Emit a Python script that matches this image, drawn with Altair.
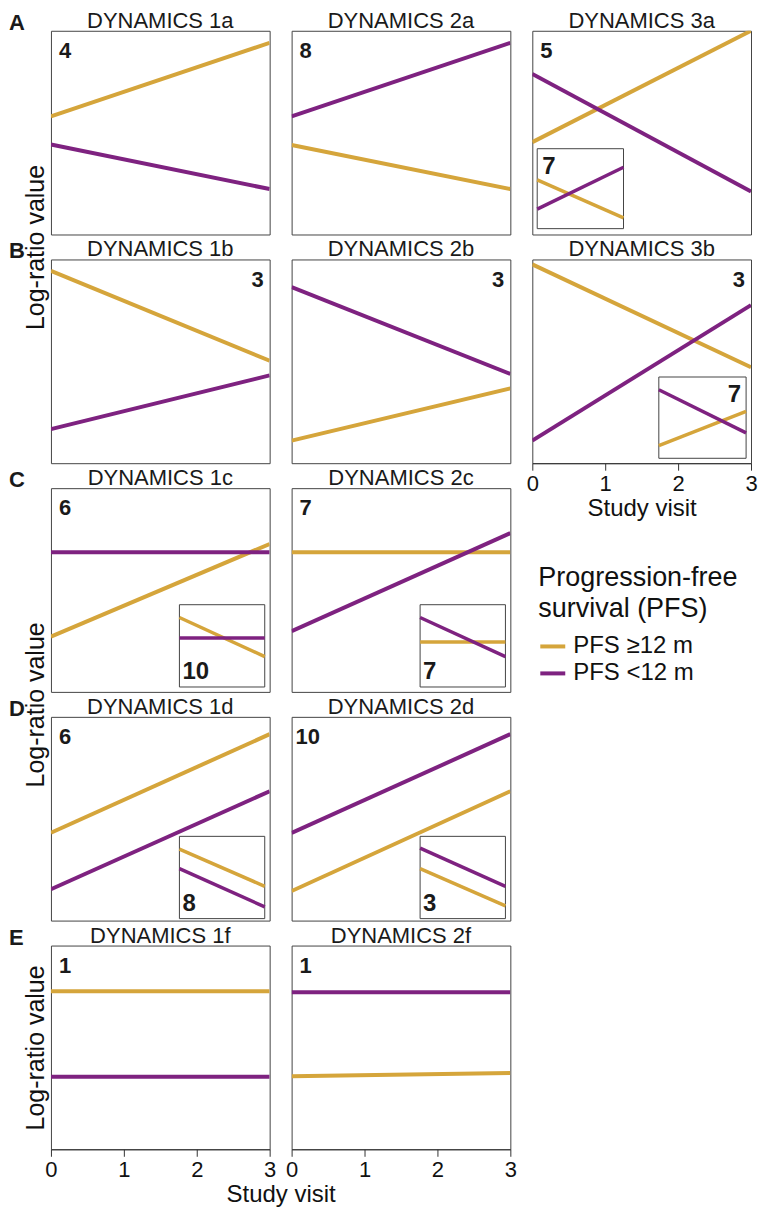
import altair as alt
import pandas as pd

FONT = "Liberation Sans, Arial, Helvetica, sans-serif"

# ---------------- data ----------------
panels = ["1a", "2a", "3a", "1b", "2b", "3b", "1c", "2c", "1d", "2d", "1f", "2f"]
titles = ["DYNAMICS " + p for p in panels]
counts = ["4", "8", "5", "3", "3", "3", "6", "7", "6", "10", "1", "1"]
visits = [0, 3]
groups = ["PFS \u226512 m", "PFS <12 m"]
colors = ["#D5A53B", "#7E2280"]

gold_start = [58.0, 43.9, 45.3, 94.4, 11.1, 97.6, 27.1, 68.6, 43.1, 14.5, 77.6, 35.9]
gold_end = [94.1, 22.3, 100.0, 50.3, 36.7, 47.1, 72.6, 68.6, 91.5, 63.5, 77.6, 37.5]
purple_start = [44.2, 58.0, 78.8, 16.7, 86.4, 11.1, 68.6, 29.8, 15.4, 43.0, 35.6, 77.1]
purple_end = [22.3, 94.1, 21.1, 43.1, 43.8, 77.6, 68.6, 77.9, 63.5, 91.5, 35.6, 77.1]

inset_panels = ["3a", "3b", "1c", "2c", "1d", "2d"]
inset_counts = ["7", "7", "10", "7", "8", "3"]
inset_gold_start = [61.0, 15.7, 84.5, 54.8, 84.5, 60.7]
inset_gold_end = [13.4, 57.8, 36.9, 54.8, 39.3, 15.5]
inset_purple_start = [24.4, 84.3, 59.5, 84.5, 60.7, 85.7]
inset_purple_end = [76.8, 31.3, 59.5, 36.9, 14.3, 39.3]

row_letters = {"1a": "A", "1b": "B", "1c": "C", "1d": "D", "1f": "E"}

# ---------------- layout ----------------
W, H = 219, 204
COL_GAP, ROW_GAP = 22, 25

# inset frames as fractions of the panel (x0, x1, y_top, y_bottom)
inset_box = {
    "3a": (5 / 223, 93 / 223, 121 / 209, 203 / 209),
    "3b": (129 / 223, 218 / 223, 120 / 208, 203 / 208),
    "1c": (131 / 223, 218 / 223, 119 / 208, 203 / 208),
    "2c": (131 / 223, 218 / 223, 119 / 208, 203 / 208),
    "1d": (131 / 223, 218 / 223, 122 / 208, 206 / 208),
    "2d": (131 / 223, 218 / 223, 122 / 208, 206 / 208),
}
inset_corner = {"3a": "tl", "3b": "tr", "1c": "bl", "2c": "bl", "1d": "bl", "2d": "bl"}

color_enc = alt.Color(
    "group:N",
    scale=alt.Scale(domain=groups, range=colors),
    title=["Progression-free", "survival (PFS)"],
)


def series_df(gs, ge, ps, pe):
    rows = []
    for g, s, e in [(groups[0], gs, ge), (groups[1], ps, pe)]:
        rows.append({"visit": visits[0], "value": s, "group": g})
        rows.append({"visit": visits[1], "value": e, "group": g})
    return pd.DataFrame(rows)


def text_layer(txt, x, y, size, weight="normal", align="left"):
    return alt.Chart(pd.DataFrame({"t": [txt]})).mark_text(
        font=FONT, fontSize=size, fontWeight=weight, align=align,
        baseline="alphabetic", color="#1a1a1a"
    ).encode(text="t:N", x=alt.value(x), y=alt.value(y))


def x_axis(p):
    if p == "3b":
        return alt.Axis(values=[0, 1, 2, 3], title="Study visit", grid=False)
    if p == "1f":
        return alt.Axis(values=[0, 1, 2, 3], title="Study visit", grid=False,
                        titleX=W + COL_GAP / 2, titleAnchor="middle")
    if p == "2f":
        return alt.Axis(values=[0, 1, 2, 3], title=None, grid=False)
    return None


def y_axis(p):
    if p in ("1a", "1c", "1f"):
        ty = H / 2 if p == "1f" else H + ROW_GAP / 2
        return alt.Axis(title="Log-ratio value", labels=False, ticks=False,
                        domain=False, grid=False, titleX=-7, titleY=ty,
                        titleAngle=270, titleBaseline="alphabetic",
                        titleAlign="center", titleFontSize=25)
    return None


def panel(i):
    p = panels[i]
    df = series_df(gold_start[i], gold_end[i], purple_start[i], purple_end[i])
    lines = alt.Chart(df).mark_line(strokeWidth=4, clip=True).encode(
        x=alt.X("visit:Q", scale=alt.Scale(domain=[0, 3], nice=False), axis=x_axis(p)),
        y=alt.Y("value:Q", scale=alt.Scale(domain=[0, 100], nice=False), axis=y_axis(p)),
        color=color_enc,
    )
    layers = [lines, text_layer(titles[i], W / 2, -3, 22, align="center")]
    if p in ("1b", "2b", "3b"):
        layers.append(text_layer(counts[i], W - 6, 28, 22, "bold", "right"))
    else:
        layers.append(text_layer(counts[i], 4 if counts[i] == "10" else 8, 27, 22, "bold"))
    if p in row_letters:
        layers.append(text_layer(row_letters[p], -42, -1, 22, "bold"))
    if p in inset_panels:
        j = inset_panels.index(p)
        fx0, fx1, fy0, fy1 = inset_box[p]
        x0, x1, y0, y1 = fx0 * W, fx1 * W, fy0 * H, fy1 * H
        xs = alt.Scale(domain=[0, 3], range=[x0, x1], nice=False)
        ys = alt.Scale(domain=[0, 100], range=[y1, y0], nice=False)
        frame = alt.Chart(pd.DataFrame({"a": [0], "b": [3], "c": [0], "d": [100]})).mark_rect(
            fill="white", stroke="#444", strokeWidth=1
        ).encode(
            x=alt.X("a:Q", scale=xs, axis=None), x2="b:Q",
            y=alt.Y("c:Q", scale=ys, axis=None), y2="d:Q",
        )
        idf = series_df(inset_gold_start[j], inset_gold_end[j],
                        inset_purple_start[j], inset_purple_end[j])
        ilines = alt.Chart(idf).mark_line(strokeWidth=3.5).encode(
            x=alt.X("visit:Q", scale=xs, axis=None),
            y=alt.Y("value:Q", scale=ys, axis=None),
            color=color_enc,
        )
        layers.append(alt.layer(frame, ilines))
        c = inset_corner[p]
        if c == "tl":
            layers.append(text_layer(inset_counts[j], x0 + 5, y0 + 25, 24, "bold"))
        elif c == "tr":
            layers.append(text_layer(inset_counts[j], x1 - 5, y0 + 25, 24, "bold", "right"))
        else:
            layers.append(text_layer(inset_counts[j], x0 + 3, y1 - 8, 24, "bold"))
    return alt.layer(*layers).resolve_scale(x="independent", y="independent").properties(
        width=W, height=H
    )


def blank():
    return alt.Chart(pd.DataFrame({"v": [0]})).mark_point(opacity=0).encode(
        x=alt.value(0), y=alt.value(0)
    ).properties(width=W, height=H, view=alt.ViewBackground(stroke="transparent"))


cells = []
for k, p in enumerate(panels):
    cells.append(panel(k))
    if p in ("2c", "2d"):
        cells.append(blank())

chart = alt.concat(
    *cells, columns=3, spacing={"row": ROW_GAP, "column": COL_GAP}, bounds="flush"
).properties(
    padding=0
).configure_view(
    stroke="#444", strokeWidth=1
).configure_axis(
    labelFont=FONT, titleFont=FONT, labelFontSize=22, labelColor="#111",
    titleColor="#111", titleFontSize=24, titleFontWeight="normal",
    tickColor="#333", domainColor="#333", tickSize=7, labelPadding=3,
    titlePadding=2, labelFlush=False, grid=False,
).configure_legend(
    orient="none", legendX=2 * (W + COL_GAP) + 6, legendY=2 * (H + ROW_GAP) + 77, padding=0,
    titleFont=FONT, titleFontSize=27, titleFontWeight="normal", titleColor="#111",
    titleLineHeight=31, titleLimit=400, titlePadding=9,
    labelFont=FONT, labelFontSize=24, labelColor="#111", labelLimit=400,
    labelOffset=6, symbolType="stroke", symbolStrokeWidth=4, symbolSize=625,
    rowPadding=0,
)

chart.save("out.html", embed_options={"renderer": "svg", "actions": False})
